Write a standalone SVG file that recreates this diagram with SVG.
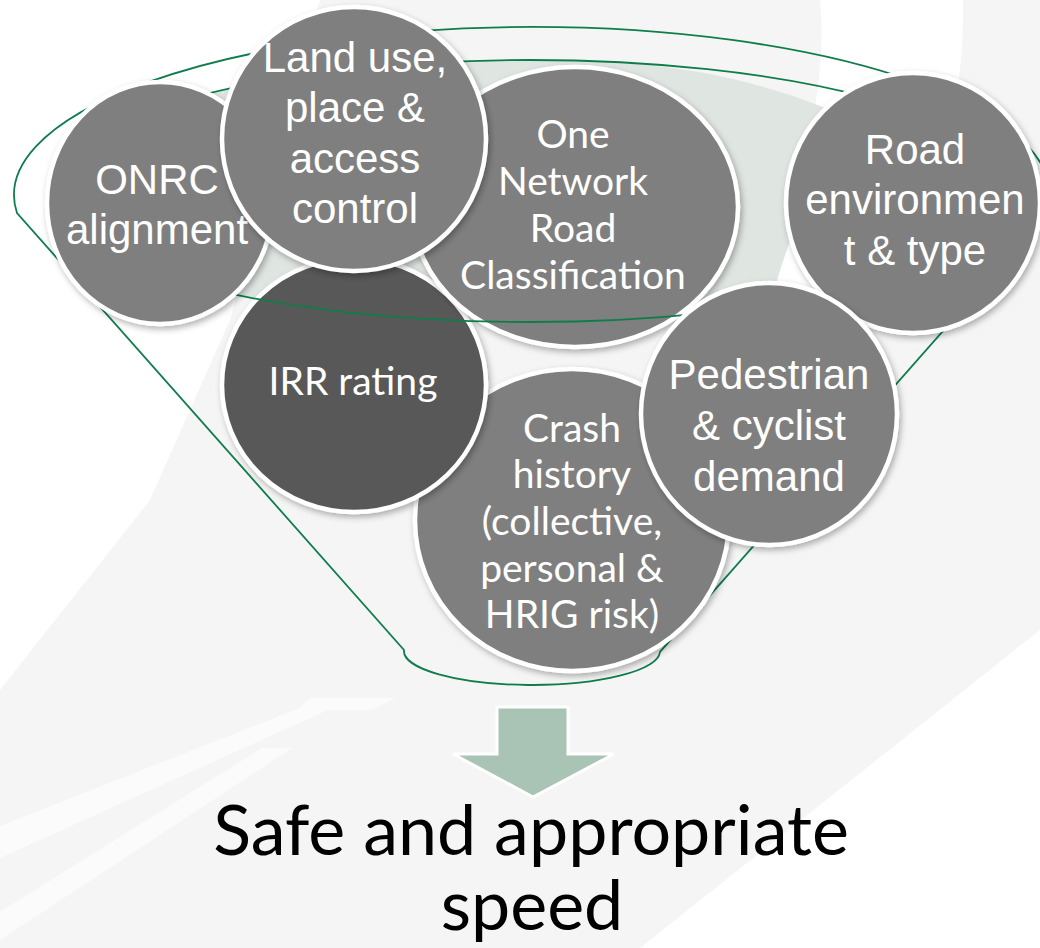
<svg xmlns="http://www.w3.org/2000/svg" width="1040" height="948" viewBox="0 0 1040 948">
<style>
.node{stroke:#ffffff;stroke-width:4.5;filter:url(#sh)}
.mid{fill:#7f7f7f}
.dark{fill:#595959}
.ta{font-family:"Liberation Sans",Arial,sans-serif;font-size:42px;fill:#ffffff;text-anchor:middle}
.tc{font-family:Lato,"Open Sans",sans-serif;font-size:39px;fill:#ffffff;text-anchor:middle}
.funnel{fill:none;stroke:#0f7d4b;stroke-width:1.8}
.big{font-family:Lato,"Open Sans",sans-serif;font-size:70px;fill:#000000;text-anchor:middle}
.streak{fill:#fbfbfb}
</style>
<defs>
<filter id="sh" x="-20%" y="-20%" width="140%" height="140%">
<feDropShadow dx="2" dy="3" stdDeviation="3" flood-color="#000000" flood-opacity="0.3"/>
</filter>
<clipPath id="inner"><ellipse cx="530" cy="191" rx="482" ry="131"/></clipPath>
</defs>
<g id="background">
<rect width="1040" height="948" fill="#ffffff"/>
<path d="M320,0 L1040,0 L1040,630 L640,948 L0,948 L0,690 L150,500 L230,320 Z" fill="#f5f5f5"/>
<path d="M820,0 L963,0 C965,120 930,250 850,330 C820,345 790,340 772,310 C790,200 830,100 820,0 Z" fill="#ffffff"/>
<path class="streak" d="M0,826 L320,700 L350,700 L0,858 Z"/>
<path class="streak" d="M0,912 L262,748 L292,748 L0,940 Z"/>
<path class="streak" d="M310,698 L395,698 L372,710 L298,710 Z"/>
</g>
<g id="funnel-fill" clip-path="url(#inner)">
<path d="M0,0 L640,0 L640,64 C700,70 760,82 823,107 C845,130 790,220 772,300 L772,400 L0,400 Z" fill="#dfe5e1"/>
</g>
<g id="connectors">
<path class="funnel" d="M17,213 A518,168 0 1 1 1047,213 L660,652 A128,34 0 0 1 404,650 Z"/>
<path class="funnel" d="M48,191 A482,131 0 0 1 1012,191"/>
</g>
<g id="crash">
<ellipse class="node mid" cx="572" cy="520" rx="157" ry="151"/>
<text class="tc" x="572" y="442">Crash</text>
<text class="tc" x="572" y="488">history</text>
<text class="tc" x="572" y="535">(collective,</text>
<text class="tc" x="572" y="582">personal &amp;</text>
<text class="tc" x="572" y="628">HRIG risk)</text>
</g>
<g id="irr">
<ellipse class="node dark" cx="354" cy="385" rx="132" ry="127"/>
<text class="tc" x="353" y="395">IRR rating</text>
</g>
<g id="onrc-class">
<ellipse class="node mid" cx="575" cy="207" rx="163" ry="140"/>
<text class="tc" x="573" y="148">One</text>
<text class="tc" x="573" y="195">Network</text>
<text class="tc" x="573" y="242">Road</text>
<text class="tc" x="573" y="289">Classification</text>
</g>
<g id="funnel-rim">
<path class="funnel" d="M48,191 A482,131 0 0 0 1012,191"/>
</g>
<g id="onrc">
<ellipse class="node mid" cx="160" cy="203" rx="113" ry="121"/>
<text class="ta" x="157" y="194">ONRC</text>
<text class="ta" x="157" y="244">alignment</text>
</g>
<g id="landuse">
<circle class="node mid" cx="354" cy="139" r="132"/>
<text class="ta" x="355" y="72">Land use,</text>
<text class="ta" x="355" y="122">place &amp;</text>
<text class="ta" x="355" y="173">access</text>
<text class="ta" x="355" y="223">control</text>
</g>
<g id="roadenv">
<ellipse class="node mid" cx="913" cy="203" rx="127" ry="130"/>
<text class="ta" x="915" y="164">Road</text>
<text class="ta" x="915" y="214">environmen</text>
<text class="ta" x="915" y="265">t &amp; type</text>
</g>
<g id="pedestrian">
<ellipse class="node mid" cx="769" cy="414" rx="128" ry="131"/>
<text class="ta" x="769" y="389">Pedestrian</text>
<text class="ta" x="769" y="440">&amp; cyclist</text>
<text class="ta" x="769" y="491">demand</text>
</g>
<g id="arrow">
<path d="M497,707 L568,707 L568,754 L614,754 L533,797 L453,754 L497,754 Z" fill="#a9c4b5" stroke="#ffffff" stroke-width="3"/>
</g>
<g id="result">
<text class="big" x="531" y="855">Safe and appropriate</text>
<text class="big" x="532" y="930">speed</text>
</g>
</svg>
